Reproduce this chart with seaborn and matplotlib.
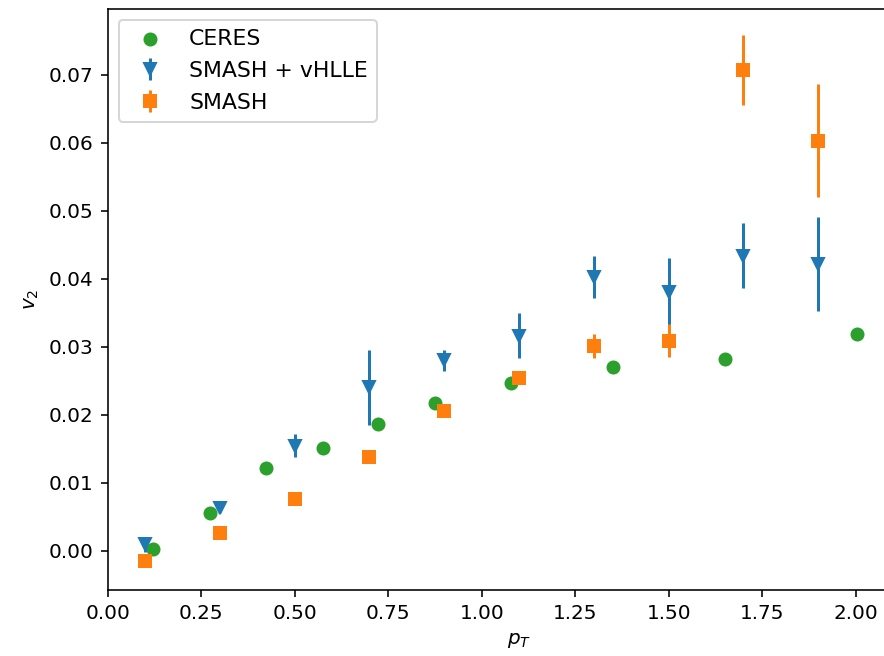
import numpy as np
import matplotlib
matplotlib.use('Agg')
import matplotlib.pyplot as plt
import pandas as pd
import seaborn as sns

# CERES data
ceres_pt = [0.121, 0.274, 0.424, 0.576, 0.7235, 0.875, 1.0775, 1.352, 1.650, 2.004]
ceres_v2 = [0.00025, 0.0055, 0.0121, 0.0151, 0.0187, 0.0217, 0.0247, 0.0270, 0.0282, 0.0319]

# SMASH + vHLLE
hybrid_pt = [0.1, 0.3, 0.5, 0.7, 0.9, 1.1, 1.3, 1.5, 1.7, 1.9]
hybrid_v2 = [0.0009, 0.0063, 0.0154, 0.0240, 0.0280, 0.0316, 0.0403, 0.0380, 0.0434, 0.0422]
hybrid_err = [0.0011, 0.0005, 0.0017, 0.0055, 0.0015, 0.0033, 0.0031, 0.0050, 0.0048, 0.0069]

# SMASH only
smash_pt = [0.1, 0.3, 0.5, 0.7, 0.9, 1.1, 1.3, 1.5, 1.7, 1.9, 2.1]
smash_v2 = [-0.0016, 0.0026, 0.0076, 0.0137, 0.0206, 0.0254, 0.0301, 0.0309, 0.0707, 0.0603, 0.0]
smash_err = [0.0002, 0.0002, 0.0002, 0.0002, 0.0002, 0.0003, 0.0017, 0.0024, 0.0052, 0.0083, 0.001]

ceres_df = pd.DataFrame({'pt': ceres_pt, 'v2': ceres_v2})

fig = plt.figure(figsize=(884 / 144, 656 / 144), dpi=144)
ax = fig.add_axes([107.7 / 884, 66 / 656, 2.2 * 374 / 884, 581 / 656])

sns.scatterplot(data=ceres_df, x='pt', y='v2', color='#2ca02c', s=36,
                edgecolor='#2ca02c', linewidth=1, label='CERES', ax=ax, zorder=2)
ax.errorbar(hybrid_pt, hybrid_v2, yerr=hybrid_err, fmt='v', color='#1f77b4',
            label='SMASH + vHLLE', zorder=3)
ax.errorbar(smash_pt, smash_v2, yerr=smash_err, fmt='s', color='#ff7f0e',
            label='SMASH', zorder=4)

ax.set_xlim(0, 2.2)
ax.set_ylim(-0.0058, 0.0797)
ax.set_xticks(np.arange(0, 2.01, 0.25))
ax.set_xlabel('$p_T$')
ax.set_ylabel('$v_2$')
ax.legend(loc='upper left', fontsize=11, labelspacing=0.55)

fig.savefig('out.png', dpi=144)
